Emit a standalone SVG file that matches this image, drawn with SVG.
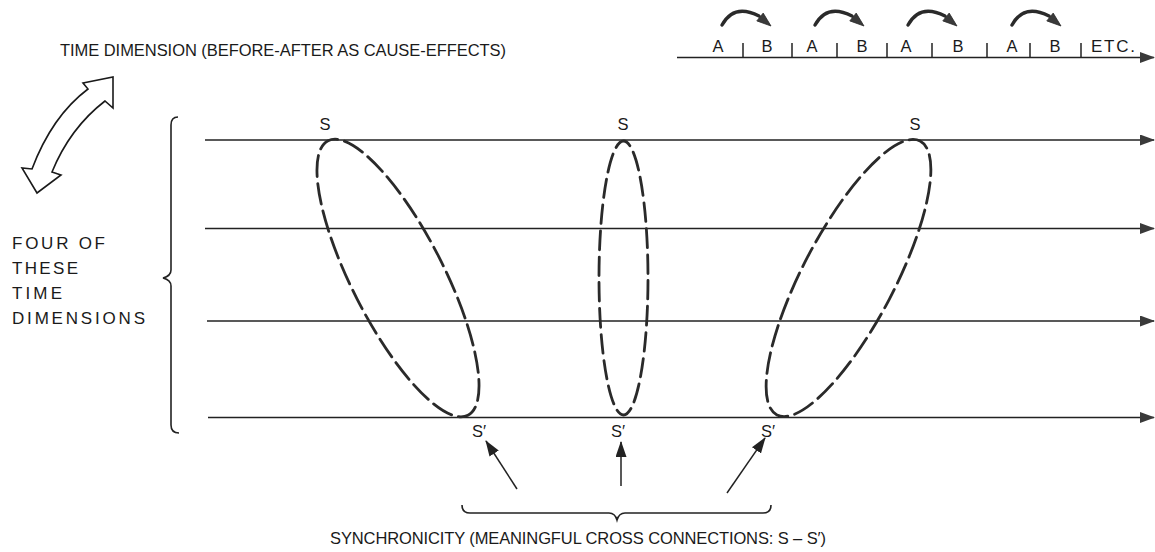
<svg xmlns="http://www.w3.org/2000/svg" xmlns:xlink="http://www.w3.org/1999/xlink" width="1155" height="552" viewBox="0 0 1155 552">
<style>
  text { font-family: "Liberation Sans", Arial, sans-serif; fill: #1a1a1a; }
  .lbl { font-size: 17px; }
  .ttl { font-size: 16.5px; }
  .small { font-size: 16.5px; text-anchor: middle; }
  .line { stroke: #222; stroke-width: 1.5; fill: none; }
  .ell { stroke: #2a2a2a; stroke-width: 2.8; fill: none; stroke-linecap: round; }
  .brace { stroke: #222; stroke-width: 1.6; fill: none; }
  .curl { stroke: #2a2a2a; stroke-width: 3.4; fill: none; stroke-linecap: round; }
  .head { fill: #3a3a3a; stroke: #2a2a2a; stroke-width: 0.8; }
</style>
<defs>
  <marker id="ah" markerUnits="userSpaceOnUse" markerWidth="15" markerHeight="11" refX="14" refY="5.5" orient="auto">
    <path d="M0,0 L15,5.5 L0,11 z" fill="#3a3a3a"/>
  </marker>
  <marker id="ah2" markerUnits="userSpaceOnUse" markerWidth="16" markerHeight="11" refX="15" refY="5.5" orient="auto">
    <path d="M0,0 L16,5.5 L0,11 z" fill="#222"/>
  </marker>
  <g id="curlshape">
    <path class="curl" d="M0,0 Q12,-22 37,-9"/>
    <polygon class="head" points="49,1 34.8,-4.1 41.2,-11.9"/>
  </g>
</defs>
<rect width="1155" height="552" fill="#fff"/>

<g id="title">
  <text class="ttl" x="60" y="56" textLength="446" lengthAdjust="spacing">TIME DIMENSION (BEFORE-AFTER AS CAUSE-EFFECTS)</text>
</g>

<g id="timeline">
  <line class="line" x1="677" y1="57.5" x2="1154" y2="57.5" marker-end="url(#ah)"/>
  <g class="line">
    <line x1="743" y1="43" x2="743" y2="57"/>
    <line x1="792" y1="43" x2="792" y2="57"/>
    <line x1="837" y1="43" x2="837" y2="57"/>
    <line x1="887" y1="43" x2="887" y2="57"/>
    <line x1="932" y1="43" x2="932" y2="57"/>
    <line x1="987" y1="43" x2="987" y2="57"/>
    <line x1="1030" y1="43" x2="1030" y2="57"/>
    <line x1="1081" y1="43" x2="1081" y2="57"/>
  </g>
  <text class="small" x="718" y="52">A</text>
  <text class="small" x="767" y="52">B</text>
  <text class="small" x="812" y="52">A</text>
  <text class="small" x="862" y="52">B</text>
  <text class="small" x="906" y="52">A</text>
  <text class="small" x="958" y="52">B</text>
  <text class="small" x="1012" y="52">A</text>
  <text class="small" x="1055" y="52">B</text>
  <text class="lbl" x="1091" y="52" textLength="44" lengthAdjust="spacing">ETC.</text>
  <use xlink:href="#curlshape" href="#curlshape" transform="translate(722,25)"/>
  <use xlink:href="#curlshape" href="#curlshape" transform="translate(815,25)"/>
  <use xlink:href="#curlshape" href="#curlshape" transform="translate(908,25)"/>
  <use xlink:href="#curlshape" href="#curlshape" transform="translate(1012,25)"/>
</g>

<g id="double-arrow">
  <path d="M113,77 L113,108 L105,101 Q70,128 52,172 L61,175 L37,193 L22,168 L32,169 Q52,116 88,89 L83,83 Z" fill="#fff" stroke="#1a1a1a" stroke-width="1.6" stroke-linejoin="miter"/>
</g>

<g id="four-label">
  <text class="lbl" x="12" y="249" textLength="93" lengthAdjust="spacing">FOUR OF</text>
  <text class="lbl" x="12" y="274" textLength="66" lengthAdjust="spacing">THESE</text>
  <text class="lbl" x="12" y="299" textLength="50" lengthAdjust="spacing">TIME</text>
  <text class="lbl" x="12" y="324" textLength="133" lengthAdjust="spacing">DIMENSIONS</text>
</g>

<g id="left-brace">
  <path class="brace" d="M178,117 Q171,117 171,125 L171,270 Q171,276 163,278 Q171,280 171,286 L171,425 Q171,433 179,433"/>
</g>

<g id="connectors">
  <line class="line" x1="205" y1="140" x2="1154" y2="140" marker-end="url(#ah)"/>
  <line class="line" x1="205" y1="228.5" x2="1154" y2="228.5" marker-end="url(#ah)"/>
  <line class="line" x1="207" y1="321" x2="1154" y2="321" marker-end="url(#ah)"/>
  <line class="line" x1="208" y1="417.5" x2="1154" y2="417.5" marker-end="url(#ah)"/>
  <line class="line" x1="517" y1="489" x2="486" y2="441" marker-end="url(#ah2)"/>
  <line class="line" x1="621" y1="486" x2="621" y2="442" marker-end="url(#ah2)"/>
  <line class="line" x1="727" y1="493" x2="765" y2="438" marker-end="url(#ah2)"/>
</g>

<g id="sync-left">
  <ellipse class="ell" cx="398" cy="278" rx="154" ry="46" transform="rotate(63 398 278)" pathLength="24" stroke-dasharray="0.75 0.25" stroke-dashoffset="0.4"/>
  <text class="small" x="325" y="130">S</text>
  <text class="small" x="479" y="437">S′</text>
</g>

<g id="sync-middle">
  <ellipse class="ell" cx="623.5" cy="278" rx="137" ry="24.5" transform="rotate(90 623.5 278)" pathLength="22" stroke-dasharray="0.72 0.28" stroke-dashoffset="0.4"/>
  <text class="small" x="623" y="130">S</text>
  <text class="small" x="618" y="437">S′</text>
</g>

<g id="sync-right">
  <ellipse class="ell" cx="848.5" cy="278" rx="154.5" ry="46" transform="rotate(-62.4 848.5 278)" pathLength="24" stroke-dasharray="0.75 0.25" stroke-dashoffset="0.4"/>
  <text class="small" x="915" y="130">S</text>
  <text class="small" x="768" y="437">S′</text>
</g>

<g id="bottom-brace">
  <path class="brace" d="M462,505 Q462,513 470,513 L609,513 Q615,513 617,520 Q619,513 625,513 L763,513 Q771,513 771,505"/>
</g>

<g id="sync-label">
  <text class="ttl" x="330" y="544" textLength="496" lengthAdjust="spacing">SYNCHRONICITY (MEANINGFUL CROSS CONNECTIONS: S – S′)</text>
</g>
</svg>
